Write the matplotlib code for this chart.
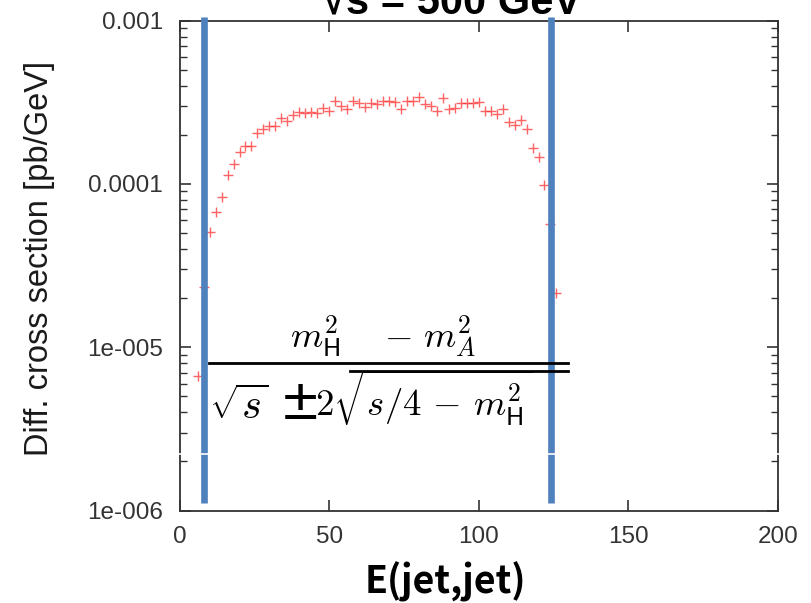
import numpy as np
import matplotlib
matplotlib.use("Agg")
import matplotlib.pyplot as plt
from matplotlib.lines import Line2D
from matplotlib.ticker import FixedLocator, FixedFormatter, LogLocator, NullFormatter

plt.rcParams['mathtext.fontset'] = 'cm'

################ data #################
# jet-pair energy bins [GeV]
e_jj = np.arange(6, 127, 2)
# diff. cross section [pb/GeV]
xsec = [6.7e-6, 2.34e-5, 5.05e-5, 6.72e-5, 8.36e-5, 1.13e-4, 1.33e-4, 1.57e-4, 1.71e-4, 1.71e-4,
        2.04e-4, 2.16e-4, 2.28e-4, 2.26e-4, 2.54e-4, 2.44e-4, 2.66e-4, 2.77e-4, 2.73e-4, 2.76e-4,
        2.71e-4, 2.91e-4, 2.80e-4, 3.22e-4, 3.00e-4, 2.87e-4, 3.22e-4, 3.12e-4, 2.95e-4, 3.12e-4,
        3.10e-4, 3.22e-4, 3.24e-4, 3.18e-4, 2.89e-4, 3.21e-4, 3.21e-4, 3.42e-4, 3.09e-4, 3.00e-4,
        2.81e-4, 3.36e-4, 2.89e-4, 2.92e-4, 3.15e-4, 3.12e-4, 3.12e-4, 3.19e-4, 2.81e-4, 2.81e-4,
        2.68e-4, 2.89e-4, 2.39e-4, 2.31e-4, 2.47e-4, 2.16e-4, 1.65e-4, 1.46e-4, 9.8e-5, 5.7e-5,
        2.15e-5]

# kinematic edges of E(jet,jet)
edges = [8.2, 124.1]
edge_lo, edge_hi = 1.11e-6, 1.054e-3

x_ticks = [0, 50, 100, 150, 200]
y_ticks = [1e-6, 1e-5, 1e-4, 1e-3]
y_tick_labels = ["1e-006", "1e-005", "0.0001", "0.001"]

################ figure #################
W, H = 811, 603
fig = plt.figure(figsize=(W / 100, H / 100), dpi=100)
fig.patch.set_facecolor("white")

# pixel -> figure fraction
def px(x, y):
    return x / W, 1 - y / H

ax = fig.add_axes([179.7 / W, 1 - 510.6 / H, 598 / W, 489.9 / H])
ax.plot(e_jj, xsec, "+", color="#ff3030", ms=6.5, mew=1.0, alpha=0.75, zorder=3)

ax.set_yscale("log")
ax.set_xlim(0, 200)
ax.set_ylim(1e-6, 1e-3)
ax.xaxis.set_major_locator(FixedLocator(x_ticks))
ax.yaxis.set_major_locator(FixedLocator(y_ticks))
ax.yaxis.set_major_formatter(FixedFormatter(y_tick_labels))
ax.yaxis.set_minor_locator(LogLocator(base=10, subs=np.arange(2, 10)))
ax.yaxis.set_minor_formatter(NullFormatter())

ax.tick_params(which="both", direction="in", top=True, right=True,
               color="#333333", labelcolor="#333333", labelsize=17.5)
ax.tick_params(which="major", length=8, width=1.2)
ax.tick_params(which="minor", length=5, width=1.0)
ax.tick_params(axis="y", pad=12)
ax.tick_params(axis="x", pad=11)
for tl in ax.get_xticklabels() + ax.get_yticklabels():
    tl.set_family("Liberation Sans")
for s in ax.spines.values():
    s.set_color("#333333")
    s.set_linewidth(1.3)

fig.text(*px(40, 258), "Diff. cross section [pb/GeV]", rotation=90, ha="center", va="center",
         fontsize=23.5, family="Liberation Sans", color="#1a1a1a")

# blue marker lines at the edges
ax.vlines(edges, edge_lo, edge_hi, colors="#4f81bd", lw=4.8, clip_on=False, zorder=6)

################ text #################
fig.text(*px(452, 13), "√s = 500 GeV", ha="center", va="baseline", fontsize=30,
         fontweight="bold", family=["Liberation Sans", "DejaVu Sans"])
fig.text(*px(445, 594), "E(jet,jet)", ha="center", va="baseline", fontsize=27,
         fontweight="bold", family=["Noto Sans CJK JP", "DejaVu Sans"])

# edge formula
fs = 26.5
fig.text(*px(290, 347), r"$m_{\mathsf{H}}^{2}$", fontsize=fs, va="baseline")
fig.text(*px(384, 347), r"$-$", fontsize=fs, va="baseline")
fig.text(*px(423, 347), r"$m_{A}^{2}$", fontsize=fs, va="baseline")
fig.add_artist(Line2D([209.3 / W, 568.3 / W], [1 - 363.3 / H] * 2, color="black", lw=2))

fig.text(*px(209, 419), r"$\sqrt{s}$", fontsize=30.5, va="baseline")
fig.text(*px(279, 419), "±", fontsize=31, va="baseline", fontweight="bold",
         family=["Noto Sans CJK JP", "DejaVu Sans"])
fig.text(*px(315, 417), r"$2\sqrt{s/4\,-\,m_{\mathsf{H}}^{2}}$", fontsize=fs, va="baseline")
fig.add_artist(Line2D([350 / W, 568.3 / W], [1 - 370.7 / H] * 2, color="black", lw=2))

# thin white seam across the picture
fig.add_artist(Line2D([150 / W, 1.0], [1 - 454 / H] * 2, color="white", lw=1.2, zorder=10))

fig.savefig("out.png", dpi=100)
